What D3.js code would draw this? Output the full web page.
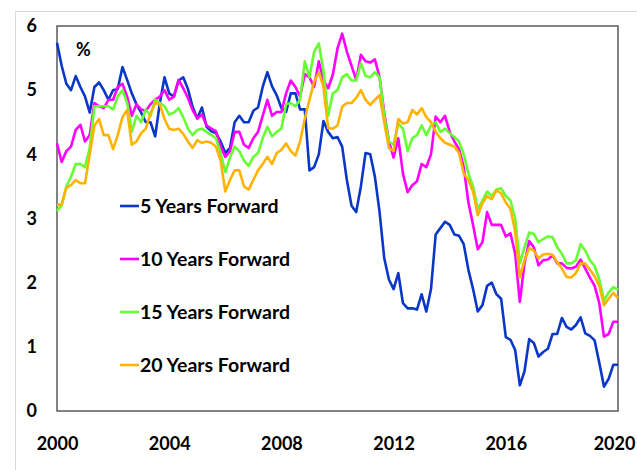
<!DOCTYPE html>
<html>
<head>
<meta charset="utf-8">
<script src="https://cdn.jsdelivr.net/npm/d3@7"></script>
<style>
  body { margin: 0; background: #fff; }
  text { font-family: Lato, "Open Sans", sans-serif; font-weight: bold; fill: #000; }
</style>
</head>
<body>
<div id="chart"></div>
<script>
// Chart data: forward rates, one value every two months from Jan 2000
var yearTicks = [2000, 2004, 2008, 2012, 2016, 2020];
var rateTicks = [0, 1, 2, 3, 4, 5, 6];
var seriesNames = ["5 Years Forward", "10 Years Forward", "15 Years Forward", "20 Years Forward"];
var seriesColors = ["#0a37c8", "#ff00ff", "#66ff33", "#ffb300"];

var fwd5 = [5.74, 5.38, 5.1, 5.0, 5.22, 5.05, 4.9, 4.65, 5.05, 5.12, 5.0, 4.85, 5.0, 5.02, 5.36, 5.16, 4.95, 4.78, 4.65, 4.5,
  4.5, 4.28, 4.8, 5.2, 4.95, 4.9, 5.15, 5.2, 5.02, 4.74, 4.56, 4.73, 4.43, 4.36, 4.33, 4.2, 4.02, 4.1, 4.5, 4.6,
  4.5, 4.5, 4.68, 4.73, 5.05, 5.28, 5.06, 4.92, 4.72, 4.66, 4.95, 4.95, 4.7, 4.7, 3.75, 3.8, 4.0, 4.52, 4.35, 4.25,
  4.27, 4.12, 3.6, 3.2, 3.1, 3.5, 4.02, 4.0, 3.65, 3.1, 2.38, 2.05, 1.9, 2.15, 1.68, 1.6, 1.6, 1.58, 1.82, 1.55,
  1.9, 2.75, 2.85, 2.95, 2.9, 2.75, 2.73, 2.6, 2.2, 1.9, 1.55, 1.65, 1.95, 2.0, 1.82, 1.75, 1.15, 1.11, 0.95, 0.4,
  0.62, 1.12, 1.06, 0.85, 0.92, 0.97, 1.2, 1.2, 1.45, 1.31, 1.27, 1.34, 1.46, 1.21, 1.17, 1.1, 0.75, 0.38, 0.5, 0.72, 0.72];

var fwd10 = [4.17, 3.88, 4.05, 4.12, 4.38, 4.46, 4.2, 4.3, 4.8, 4.75, 4.72, 4.85, 4.85, 5.05, 5.1, 4.9, 4.6, 4.78, 4.7, 4.68,
  4.78, 4.85, 4.9, 5.0, 4.85, 4.9, 5.16, 5.03, 4.88, 4.69, 4.56, 4.62, 4.45, 4.4, 4.36, 4.12, 3.96, 4.05, 4.35, 4.35,
  4.15, 4.1, 4.25, 4.35, 4.6, 4.85, 4.6, 4.66, 4.66, 4.95, 5.15, 5.05, 4.9, 5.25, 5.2, 5.05, 5.45, 5.15, 5.03, 5.24,
  5.65, 5.88, 5.6, 5.38, 5.16, 5.55, 5.45, 5.43, 5.48, 5.2, 4.65, 4.2, 3.95, 4.25, 3.7, 3.41, 3.52, 3.58, 3.85, 3.8,
  4.0, 4.59, 4.5, 4.6, 4.35, 4.2, 4.08, 3.8, 3.25, 2.9, 2.52, 2.63, 3.1, 2.9, 2.9, 2.9, 2.72, 2.77, 2.45, 1.7,
  2.3, 2.65, 2.55, 2.27, 2.35, 2.36, 2.43, 2.3, 2.3, 2.23, 2.22, 2.25, 2.36, 2.22, 2.08, 1.95, 1.68, 1.16, 1.2, 1.39, 1.39];

var fwd15 = [3.12, 3.2, 3.5, 3.65, 3.85, 3.85, 3.8, 4.1, 4.75, 4.75, 4.75, 4.75, 4.7, 4.9, 5.0, 4.8, 4.35, 4.6, 4.5, 4.7,
  4.6, 4.85, 4.8, 4.75, 4.62, 4.65, 4.72, 4.58, 4.4, 4.3, 4.38, 4.4, 4.35, 4.3, 4.25, 4.02, 3.72, 3.95, 4.12, 4.05,
  3.9, 3.82, 3.96, 4.02, 4.25, 4.43, 4.28, 4.35, 4.4, 4.78, 4.8, 4.75, 4.85, 5.45, 5.2, 5.6, 5.73, 5.3, 4.6, 4.95,
  5.0, 5.2, 5.25, 5.15, 5.15, 5.42, 5.22, 5.2, 5.28, 5.2, 4.6, 4.2, 4.15, 4.48, 4.4, 4.05, 4.25, 4.3, 4.45, 4.3,
  4.45, 4.5, 4.35, 4.4, 4.33, 4.27, 4.2, 4.0, 3.7, 3.5, 3.15, 3.28, 3.42, 3.35, 3.45, 3.47, 3.35, 3.28, 3.0, 2.3,
  2.55, 2.78, 2.76, 2.63, 2.68, 2.72, 2.71, 2.55, 2.45, 2.3, 2.3, 2.35, 2.6, 2.5, 2.35, 2.26, 2.05, 1.72, 1.85, 1.93, 1.89];

var fwd20 = [3.21, 3.22, 3.48, 3.52, 3.6, 3.55, 3.55, 4.0, 4.45, 4.55, 4.3, 4.3, 4.08, 4.3, 4.58, 4.69, 4.15, 4.2, 4.33, 4.4,
  4.64, 4.8, 4.78, 4.55, 4.4, 4.38, 4.4, 4.32, 4.2, 4.1, 4.22, 4.18, 4.2, 4.18, 4.12, 3.9, 3.42, 3.6, 3.75, 3.75,
  3.5, 3.45, 3.6, 3.75, 3.85, 3.96, 3.85, 4.02, 4.07, 4.17, 4.05, 3.98, 4.2, 4.55, 4.85, 5.13, 5.28, 5.05, 4.41, 4.4,
  4.45, 4.74, 4.8, 4.8, 4.88, 5.0, 4.85, 4.77, 4.85, 4.92, 4.5, 4.1, 4.05, 4.55, 4.48, 4.5, 4.69, 4.62, 4.72, 4.58,
  4.5, 4.35, 4.25, 4.18, 4.15, 4.12, 4.02, 3.7, 3.6, 3.42, 3.05, 3.24, 3.35, 3.3, 3.44, 3.39, 3.25, 3.15, 2.8, 2.08,
  2.35, 2.54, 2.5, 2.38, 2.44, 2.45, 2.43, 2.32, 2.22, 2.09, 2.08, 2.15, 2.3, 2.3, 2.2, 2.1, 1.95, 1.65, 1.75, 1.84, 1.76];

var allSeries = [fwd5, fwd10, fwd15, fwd20];
var dates = d3.range(fwd5.length).map(i => 2000 + i / 6);

var svgWidth = 637;
var svgHeight = 470;
var margin = { top: 26, right: 19, bottom: 59, left: 57 };
var width = svgWidth - margin.left - margin.right;
var height = svgHeight - margin.top - margin.bottom;

var svg = d3.select("#chart")
  .append("svg")
  .attr("width", svgWidth)
  .attr("height", svgHeight);

// outer light frame
svg.append("rect")
  .attr("x", 15.5).attr("y", 11.5)
  .attr("width", 640).attr("height", 480)
  .attr("fill", "none")
  .attr("stroke", "#d9d9d9");

var chartGroup = svg.append("g")
  .attr("transform", `translate(${margin.left}, ${margin.top})`);

var xScale = d3.scaleLinear().domain([2000, 2020]).range([0, width]);
var yScale = d3.scaleLinear().domain([0, 6]).range([height, 0]);

// plot frame
chartGroup.append("rect")
  .attr("x", 0).attr("y", 0)
  .attr("width", width).attr("height", height)
  .attr("fill", "none")
  .attr("stroke", "#5a5a5a")
  .attr("stroke-width", 1.5);

var bottomAxis = d3.axisBottom(xScale)
  .tickValues(yearTicks).tickFormat(d3.format("d"))
  .tickSize(0).tickPadding(26);
var leftAxis = d3.axisLeft(yScale)
  .tickValues(rateTicks).tickFormat(d3.format("d"))
  .tickSize(0).tickPadding(20);

var xAxisG = chartGroup.append("g")
  .attr("transform", `translate(0, ${height})`)
  .call(bottomAxis);
var yAxisG = chartGroup.append("g").call(leftAxis);

[xAxisG, yAxisG].forEach(function(g) {
  g.select(".domain").remove();
  g.selectAll("text")
    .attr("font-family", "Lato, 'Open Sans', sans-serif")
    .attr("font-weight", "bold")
    .attr("font-size", 18)
    .attr("fill", "#000");
});
// keep the last year label inside the picture
xAxisG.selectAll(".tick text").filter(d => d === 2020).attr("dx", -4);

var line = d3.line()
  .x((d, i) => xScale(dates[i]))
  .y(d => yScale(d));

allSeries.forEach(function(s, k) {
  chartGroup.append("path")
    .datum(s)
    .attr("fill", "none")
    .attr("stroke", seriesColors[k])
    .attr("stroke-width", 2.6)
    .attr("stroke-linejoin", "round")
    .attr("d", line);
});

// % unit label
chartGroup.append("text")
  .attr("x", 19).attr("y", 30)
  .attr("font-size", 18)
  .text("%");

// legend
var legend = chartGroup.selectAll(".legend")
  .data(seriesNames)
  .enter()
  .append("g")
  .attr("transform", (d, i) => `translate(63, ${180 + i * 53})`);

legend.append("line")
  .attr("x1", 0).attr("x2", 19)
  .attr("y1", 0).attr("y2", 0)
  .attr("stroke", (d, i) => seriesColors[i])
  .attr("stroke-width", 2.6);

legend.append("text")
  .attr("x", 20).attr("y", 0)
  .attr("dy", "0.35em")
  .attr("font-size", 19.5)
  .text(d => d);
</script>
</body>
</html>
